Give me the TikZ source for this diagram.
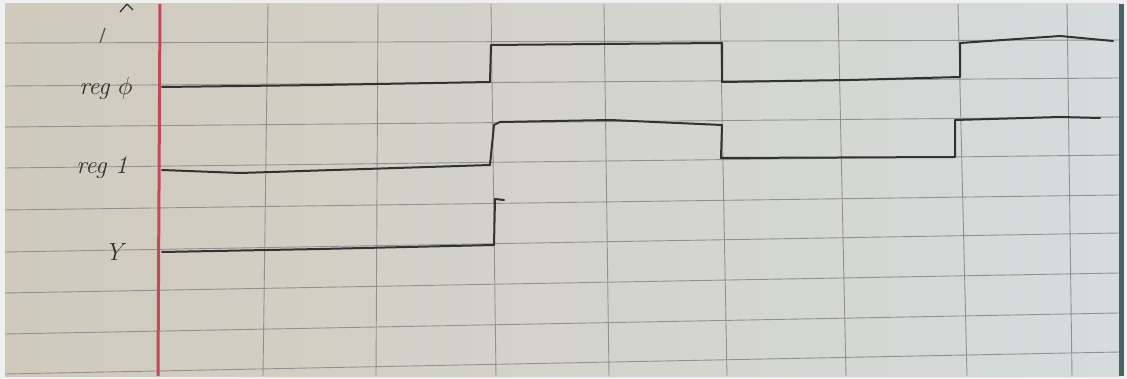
\documentclass[tikz,border=0pt]{standalone}
\usepackage{fontspec}
\setmainfont{Latin Modern Roman}
\begin{document}
\begin{tikzpicture}[x=1pt,y=-1pt,
  grid/.style={draw=gridc,line width=0.9pt},
  ink/.style={draw=inkc,line width=2pt,line join=round,line cap=round},
  lbl/.style={text=inkc,font=\Huge\itshape,inner sep=0pt}]
\definecolor{gridc}{RGB}{145,145,143}
\definecolor{inkc}{RGB}{50,50,50}
\definecolor{marg}{RGB}{196,72,88}
\definecolor{paperL}{RGB}{208,202,188}
\definecolor{paperM}{RGB}{228,228,224}
\definecolor{paperR}{RGB}{214,219,220}
\definecolor{frame}{RGB}{239,239,239}
\useasboundingbox (0,0) rectangle (1127,379);
\fill[frame] (0,0) rectangle (1127,379);
\shade[left color=paperL,middle color=paperM,right color=paperR] (5,4) rectangle (1120,376);
\fill[black!55!teal!40!gray] (1119,4) rectangle (1124,376);
% horizontal grid lines
\foreach \yl/\yr in {43/40,86/78,127/117,168/155,210/195,252/233,293/273,334/313,374/352}
  \draw[grid] (5,\yl) -- (1119,\yr);
% vertical grid lines
\foreach \xt/\xb in {268/263,378/376,491/496,604/609,720/727,838/846,958/967,1067/1072}
  \draw[grid] (\xt,4) -- (\xb,376);
% margin line
\draw[marg,line width=3pt] (160,4) -- (158,376);
% stray marks at top-left
\draw[inkc,line width=1.3pt] (120,12) -- (127,4) (127,4) -- (133,10);
\draw[inkc!80,line width=1.4pt] (105,28) -- (100,43);
% labels
\node[lbl] (l0) at (106,88) {reg $\phi$};
\node[lbl] (l1) at (102,168) {reg 1};
\node[lbl] (l2) at (114,252) {Y};
% reg0
\draw[ink] (162,87) -- (320,85) -- (490,82) -- (491,45) -- (600,44) -- (722,43) -- (722,82)
  -- (850,80) -- (960,77) -- (960,43) -- (1060,36) -- (1113,41);
% reg1
\draw[ink] (162,170) -- (240,173) -- (490,165) -- (494,125) -- (500,122) -- (610,120) -- (722,125)
  -- (721,158) -- (955,157) -- (955,120) -- (1060,117) -- (1100,118);
% Y
\draw[ink] (162,252) -- (320,249) -- (494,245) -- (495,199) -- (504,200);
\end{tikzpicture}
\end{document}
